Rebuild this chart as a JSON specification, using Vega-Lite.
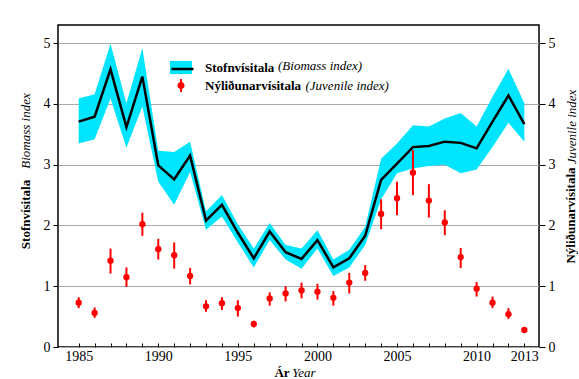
{
  "$schema": "https://vega.github.io/schema/vega-lite/v6.json",
  "width": 481,
  "height": 322,
  "autosize": {"type": "none"},
  "padding": {"left": 58, "top": 25, "right": 40, "bottom": 32},
  "background": "white",
  "config": {
    "font": "Liberation Serif, Times New Roman, serif",
    "view": {"stroke": "black", "strokeWidth": 1.5},
    "axis": {
      "labelFont": "Liberation Serif, Times New Roman, serif", "labelFontSize": 14, "labelColor": "black",
      "titleFont": "Liberation Serif, Times New Roman, serif", "titleFontSize": 13, "titleColor": "black",
      "tickColor": "black", "domain": false
    },
    "legend": {"labelFont": "Liberation Serif, Times New Roman, serif", "titleFont": "Liberation Serif, Times New Roman, serif", "labelColor": "black", "titleColor": "black"}
  },
  "data": {"values": [
    {"year": 1985, "bio": 3.71, "bio_lo": 3.35, "bio_hi": 4.09, "juv": 0.73, "juv_lo": 0.64, "juv_hi": 0.82},
    {"year": 1986, "bio": 3.79, "bio_lo": 3.42, "bio_hi": 4.16, "juv": 0.56, "juv_lo": 0.48, "juv_hi": 0.65},
    {"year": 1987, "bio": 4.57, "bio_lo": 4.09, "bio_hi": 4.99, "juv": 1.42, "juv_lo": 1.21, "juv_hi": 1.62},
    {"year": 1988, "bio": 3.62, "bio_lo": 3.28, "bio_hi": 4.01, "juv": 1.15, "juv_lo": 0.99, "juv_hi": 1.31},
    {"year": 1989, "bio": 4.45, "bio_lo": 3.96, "bio_hi": 4.92, "juv": 2.02, "juv_lo": 1.83, "juv_hi": 2.21},
    {"year": 1990, "bio": 2.99, "bio_lo": 2.72, "bio_hi": 3.23, "juv": 1.61, "juv_lo": 1.44, "juv_hi": 1.78},
    {"year": 1991, "bio": 2.76, "bio_lo": 2.34, "bio_hi": 3.21, "juv": 1.51, "juv_lo": 1.29, "juv_hi": 1.72},
    {"year": 1992, "bio": 3.15, "bio_lo": 2.88, "bio_hi": 3.38, "juv": 1.17, "juv_lo": 1.03, "juv_hi": 1.30},
    {"year": 1993, "bio": 2.08, "bio_lo": 1.93, "bio_hi": 2.23, "juv": 0.67, "juv_lo": 0.58, "juv_hi": 0.77},
    {"year": 1994, "bio": 2.34, "bio_lo": 2.15, "bio_hi": 2.50, "juv": 0.72, "juv_lo": 0.61, "juv_hi": 0.82},
    {"year": 1995, "bio": 1.88, "bio_lo": 1.72, "bio_hi": 2.02, "juv": 0.64, "juv_lo": 0.50, "juv_hi": 0.77},
    {"year": 1996, "bio": 1.46, "bio_lo": 1.31, "bio_hi": 1.62, "juv": 0.38, "juv_lo": 0.32, "juv_hi": 0.43},
    {"year": 1997, "bio": 1.90, "bio_lo": 1.76, "bio_hi": 2.04, "juv": 0.80, "juv_lo": 0.68, "juv_hi": 0.90},
    {"year": 1998, "bio": 1.56, "bio_lo": 1.44, "bio_hi": 1.68, "juv": 0.88, "juv_lo": 0.75, "juv_hi": 1.00},
    {"year": 1999, "bio": 1.45, "bio_lo": 1.29, "bio_hi": 1.62, "juv": 0.93, "juv_lo": 0.80, "juv_hi": 1.06},
    {"year": 2000, "bio": 1.76, "bio_lo": 1.62, "bio_hi": 1.92, "juv": 0.91, "juv_lo": 0.78, "juv_hi": 1.04},
    {"year": 2001, "bio": 1.31, "bio_lo": 1.17, "bio_hi": 1.44, "juv": 0.81, "juv_lo": 0.68, "juv_hi": 0.92},
    {"year": 2002, "bio": 1.46, "bio_lo": 1.31, "bio_hi": 1.60, "juv": 1.06, "juv_lo": 0.88, "juv_hi": 1.22},
    {"year": 2003, "bio": 1.83, "bio_lo": 1.68, "bio_hi": 1.98, "juv": 1.22, "juv_lo": 1.09, "juv_hi": 1.35},
    {"year": 2004, "bio": 2.75, "bio_lo": 2.43, "bio_hi": 3.10, "juv": 2.19, "juv_lo": 1.94, "juv_hi": 2.43},
    {"year": 2005, "bio": 3.02, "bio_lo": 2.86, "bio_hi": 3.35, "juv": 2.45, "juv_lo": 2.17, "juv_hi": 2.72},
    {"year": 2006, "bio": 3.29, "bio_lo": 2.94, "bio_hi": 3.65, "juv": 2.87, "juv_lo": 2.50, "juv_hi": 3.24},
    {"year": 2007, "bio": 3.31, "bio_lo": 2.98, "bio_hi": 3.63, "juv": 2.41, "juv_lo": 2.13, "juv_hi": 2.68},
    {"year": 2008, "bio": 3.38, "bio_lo": 3.00, "bio_hi": 3.76, "juv": 2.05, "juv_lo": 1.84, "juv_hi": 2.25},
    {"year": 2009, "bio": 3.36, "bio_lo": 2.86, "bio_hi": 3.85, "juv": 1.48, "juv_lo": 1.30, "juv_hi": 1.63},
    {"year": 2010, "bio": 3.27, "bio_lo": 2.92, "bio_hi": 3.63, "juv": 0.96, "juv_lo": 0.83, "juv_hi": 1.07},
    {"year": 2011, "bio": 3.71, "bio_lo": 3.29, "bio_hi": 4.12, "juv": 0.73, "juv_lo": 0.64, "juv_hi": 0.83},
    {"year": 2012, "bio": 4.14, "bio_lo": 3.69, "bio_hi": 4.58, "juv": 0.54, "juv_lo": 0.46, "juv_hi": 0.64},
    {"year": 2013, "bio": 3.67, "bio_lo": 3.38, "bio_hi": 4.01, "juv": 0.28, "juv_lo": 0.25, "juv_hi": 0.31}
  ]},
  "resolve": {"scale": {"x": "independent", "y": "independent"}},
  "layer": [
    {
      "mark": {"type": "area", "opacity": 1},
      "encoding": {
        "x": {"field": "year", "type": "quantitative",
          "scale": {"domain": [1983.7, 2013.92], "nice": false, "zero": false},
          "axis": {"orient": "bottom", "values": [1985,1986,1987,1988,1989,1990,1991,1992,1993,1994,1995,1996,1997,1998,1999,2000,2001,2002,2003,2004,2005,2006,2007,2008,2009,2010,2011,2012,2013],
            "format": "d", "labelExpr": "indexof([1985,1990,1995,2000,2005,2010,2013], datum.value) >= 0 ? datum.label : ''",
            "labelOverlap": false, "labelFlush": false, "labelBound": false,
            "tickSize": -4, "labelPadding": 6, "grid": false,
            "title": "Ár", "titleFontWeight": "bold", "titleX": 223.5, "titleY": 29, "titleAlign": "center", "titleBaseline": "alphabetic"}},
        "y": {"field": "bio_lo", "type": "quantitative",
          "scale": {"domain": [0, 5.3], "nice": false, "zero": false},
          "axis": {"orient": "left", "values": [0,1,2,3,4,5], "grid": true, "gridColor": "#aaaaaa", "gridWidth": 1,
            "tickSize": 5, "labelPadding": 3,
            "title": "Stofnvísitala", "titleFontWeight": "bold", "titleAngle": -90, "titleX": -33, "titleY": 189, "titleAlign": "center", "titleBaseline": "middle"}},
        "y2": {"field": "bio_hi"},
        "fill": {"datum": "Stofnvísitala", "scale": {"range": ["#00e5ff"]},
          "legend": {"orient": "none", "legendX": 112, "legendY": 31.5, "padding": 0,
            "symbolType": "M-1,-0.6H1V0.6H-1Z", "symbolSize": 484, "symbolStrokeWidth": 0,
            "labelFontSize": 13, "labelFontWeight": "bold", "labelOffset": 13,
            "title": "(Biomass index)", "titleOrient": "right", "titleFontStyle": "italic", "titleFontWeight": "normal",
            "titleFontSize": 13, "titlePadding": 4, "titleAnchor": "middle", "titleBaseline": "middle"}}
      }
    },
    {
      "mark": {"type": "line", "strokeWidth": 2.5, "color": "black"},
      "encoding": {
        "x": {"field": "year", "type": "quantitative",
          "scale": {"domain": [1983.7, 2013.92], "nice": false, "zero": false},
          "axis": {"orient": "bottom", "labels": false, "ticks": false, "grid": false,
            "title": "Year", "titleFontStyle": "italic", "titleFontWeight": "normal", "titleX": 245.5, "titleY": 29, "titleAlign": "center", "titleBaseline": "alphabetic"}},
        "y": {"field": "bio", "type": "quantitative",
          "scale": {"domain": [0, 5.3], "nice": false, "zero": false},
          "axis": {"orient": "left", "labels": false, "ticks": false, "grid": false,
            "title": "Biomass index", "titleFontStyle": "italic", "titleFontWeight": "normal", "titleAngle": -90, "titleX": -33, "titleY": 105.5, "titleAlign": "center", "titleBaseline": "middle"}},
        "stroke": {"datum": "line", "scale": {"range": ["black"]},
          "legend": {"orient": "none", "legendX": 112, "legendY": 31.5, "padding": 0,
            "symbolType": "stroke", "symbolSize": 484, "symbolStrokeWidth": 2.5,
            "labelExpr": "''", "title": null}}
      }
    },
    {
      "mark": {"type": "rule", "color": "red", "strokeWidth": 2},
      "encoding": {
        "x": {"field": "year", "type": "quantitative",
          "scale": {"domain": [1983.7, 2013.92], "nice": false, "zero": false}, "axis": null},
        "y": {"field": "juv_lo", "type": "quantitative",
          "scale": {"domain": [0, 5.3], "nice": false, "zero": false},
          "axis": {"orient": "right", "values": [0,1,2,3,4,5], "grid": false, "tickSize": 6, "labelPadding": 3,
            "title": "Nýliðunarvísitala", "titleFontWeight": "bold", "titleAngle": -90, "titleX": 31, "titleY": 190, "titleAlign": "center", "titleBaseline": "middle"}},
        "y2": {"field": "juv_hi"}
      }
    },
    {
      "mark": {"type": "point", "filled": true, "size": 40, "opacity": 1},
      "encoding": {
        "x": {"field": "year", "type": "quantitative",
          "scale": {"domain": [1983.7, 2013.92], "nice": false, "zero": false}, "axis": null},
        "y": {"field": "juv", "type": "quantitative",
          "scale": {"domain": [0, 5.3], "nice": false, "zero": false},
          "axis": {"orient": "right", "labels": false, "ticks": false, "grid": false,
            "title": "Juvenile index", "titleFontStyle": "italic", "titleFontWeight": "normal", "titleAngle": -90, "titleX": 32, "titleY": 101.5, "titleAlign": "center", "titleBaseline": "middle"}},
        "color": {"datum": "Nýliðunarvísitala", "scale": {"range": ["red"]},
          "legend": {"orient": "none", "legendX": 116.5, "legendY": 54, "padding": 0,
            "symbolType": "M-0.15,-1H0.15V1H-0.15Z M0.55,0A0.55,0.55 0 1,1 -0.55,0A0.55,0.55 0 1,1 0.55,0Z",
            "symbolSize": 169, "symbolStrokeWidth": 0, "symbolOpacity": 1,
            "labelFontSize": 13, "labelFontWeight": "bold", "labelOffset": 17.5,
            "title": "(Juvenile index)", "titleOrient": "right", "titleFontStyle": "italic", "titleFontWeight": "normal",
            "titleFontSize": 13, "titlePadding": 4, "titleAnchor": "middle", "titleBaseline": "middle"}}
      }
    }
  ]
}
